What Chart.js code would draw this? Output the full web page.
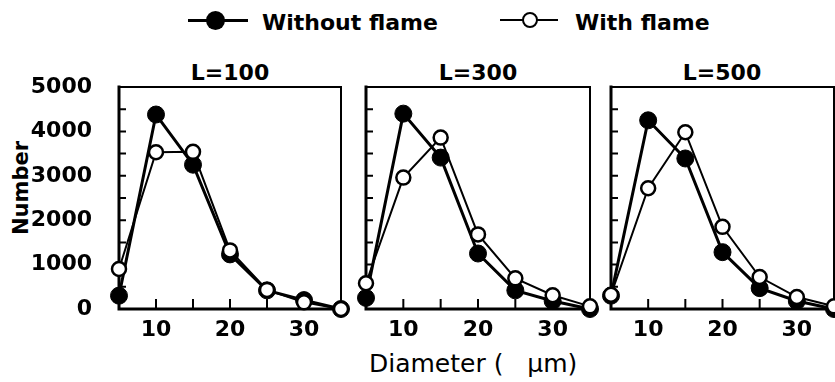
<!DOCTYPE html>
<html><head><meta charset="utf-8">
<script src="https://cdn.jsdelivr.net/npm/chart.js@4/dist/chart.umd.min.js"></script>
<style>
html,body{margin:0;padding:0;background:#fff;overflow:hidden;width:835px;height:382px;position:relative}
canvas{position:absolute;top:0}
.t{position:absolute;font-family:"DejaVu Sans";font-weight:bold;color:#000;white-space:pre;line-height:1}
.ln{position:absolute;background:#000}
.dot{position:absolute;border-radius:50%;box-sizing:border-box}
</style></head><body>

<div class="ln" style="left:188px;top:18.5px;width:60px;height:3px"></div>
<div class="dot" style="left:205.5px;top:10.5px;width:19px;height:19px;background:#000"></div>
<div class="t" id="lg1" style="left:262px;top:12px;font-size:22px">Without flame</div>
<div class="ln" style="left:500px;top:19px;width:58px;height:2px"></div>
<div class="dot" style="left:522px;top:12px;width:16px;height:16px;background:#fff;border:2.5px solid #000"></div>
<div class="t" id="lg2" style="left:575px;top:12px;font-size:22px">With flame</div>

<div class="t" id="title0" style="left:170px;top:62px;width:120px;text-align:center;font-size:22px"></div>
<div class="t" id="title1" style="left:418px;top:62px;width:120px;text-align:center;font-size:22px"></div>
<div class="t" id="title2" style="left:662px;top:62px;width:120px;text-align:center;font-size:22px"></div>

<div class="t" style="left:21px;top:188px;font-size:21px;transform:translate(-50%,-50%) rotate(-90deg)">Number</div>
<div class="t" style="left:369px;top:351px;font-size:25px;font-weight:normal">Diameter (   μm)</div>

<canvas id="c0" width="355" height="382" style="left:0px"></canvas>
<canvas id="c1" width="248" height="382" style="left:354px"></canvas>
<canvas id="c2" width="247" height="382" style="left:599px"></canvas>

<script>
// ---- data ----
const diameters = [5, 10, 15, 20, 25, 30, 35];
const panelTitles = ['L=100', 'L=300', 'L=500'];
const withoutFlameL100 = [300, 4380, 3250, 1230, 420, 200, 0];
const withFlameL100    = [900, 3530, 3540, 1320, 430, 150, 0];
const withoutFlameL300 = [250, 4400, 3410, 1250, 420, 180, 0];
const withFlameL300    = [580, 2960, 3860, 1680, 690, 310, 60];
const withoutFlameL500 = [300, 4250, 3390, 1280, 470, 180, 0];
const withFlameL500    = [320, 2720, 3980, 1850, 720, 270, 60];
const xTickLabels = [10, 20, 30];
const yTickLabels = [0, 1000, 2000, 3000, 4000, 5000];
const xMinorTicks = [10, 15, 20, 25, 30];
const yMinorTicks = [500, 1000, 1500, 2000, 2500, 3000, 3500, 4000, 4500];

const withoutSeries = [withoutFlameL100, withoutFlameL300, withoutFlameL500];
const withSeries = [withFlameL100, withFlameL300, withFlameL500];

// ---- layout (not data) ----
const panels = [
  {id: 'c0', padL: 0, padR: 14, yAxis: true},
  {id: 'c1', padL: 12, padR: 12, yAxis: false},
  {id: 'c2', padL: 12, padR: 12, yAxis: false}
];

panelTitles.forEach((t, i) => document.getElementById('title' + i).textContent = t);

const tickFont = {family: 'DejaVu Sans', weight: 'bold', size: 22};

const framePlugin = {
  id: 'frame',
  beforeDatasetsDraw(chart) {
    const {ctx, chartArea: a, scales} = chart;
    ctx.save();
    ctx.strokeStyle = '#000';
    ctx.lineCap = 'square';
    ctx.lineWidth = 2;
    ctx.beginPath();
    ctx.moveTo(a.left, a.top); ctx.lineTo(a.right, a.top); ctx.lineTo(a.right, a.bottom);
    ctx.stroke();
    ctx.lineWidth = 3;
    ctx.beginPath();
    ctx.moveTo(a.left, a.top); ctx.lineTo(a.left, a.bottom); ctx.lineTo(a.right, a.bottom);
    ctx.stroke();
    ctx.lineWidth = 2;
    ctx.lineCap = 'butt';
    ctx.beginPath();
    yMinorTicks.forEach(v => {
      const y = scales.y.getPixelForValue(v);
      ctx.moveTo(a.left, y); ctx.lineTo(a.left + 7, y);
    });
    xMinorTicks.forEach(v => {
      const x = scales.x.getPixelForValue(v);
      ctx.moveTo(x, a.bottom); ctx.lineTo(x, a.bottom - 10);
    });
    ctx.stroke();
    ctx.restore();
  }
};

panels.forEach((p, i) => {
  const ctx = document.getElementById(p.id).getContext('2d');
  new Chart(ctx, {
    type: 'line',
    data: {
      datasets: [
        {
          label: 'With flame',
          data: diameters.map((d, k) => ({x: d, y: withSeries[i][k]})),
          borderColor: '#000', borderWidth: 2, backgroundColor: '#fff',
          pointBackgroundColor: '#fff', pointBorderColor: '#000',
          pointBorderWidth: 2.5, pointRadius: 7, tension: 0, clip: false
        },
        {
          label: 'Without flame',
          data: diameters.map((d, k) => ({x: d, y: withoutSeries[i][k]})),
          borderColor: '#000', borderWidth: 3, backgroundColor: '#000',
          pointBackgroundColor: '#000', pointBorderColor: '#000',
          pointBorderWidth: 1, pointRadius: 8.5, tension: 0, clip: false
        }
      ]
    },
    options: {
      responsive: false, animation: false, events: [],
      layout: {padding: {left: p.padL, right: p.padR, top: 87, bottom: 0}},
      plugins: {legend: {display: false}, tooltip: {enabled: false}, title: {display: false}},
      scales: {
        x: {
          type: 'linear', min: 5, max: 35,
          grid: {display: false}, border: {display: false},
          ticks: {font: tickFont, color: '#000', padding: 0, maxRotation: 0, autoSkip: false,
                  callback: v => String(v)},
          afterBuildTicks: s => { s.ticks = xTickLabels.map(v => ({value: v})); },
          afterFit: s => { s.height = 73; }
        },
        y: {
          type: 'linear', min: 0, max: 5000, display: p.yAxis,
          grid: {display: false}, border: {display: false},
          ticks: {font: tickFont, color: '#000', padding: 19, callback: v => String(v)},
          afterBuildTicks: s => { s.ticks = yTickLabels.map(v => ({value: v})); },
          afterFit: s => { s.width = p.yAxis ? 119 : 0; }
        }
      }
    },
    plugins: [framePlugin]
  });
});
</script>
</body></html>
